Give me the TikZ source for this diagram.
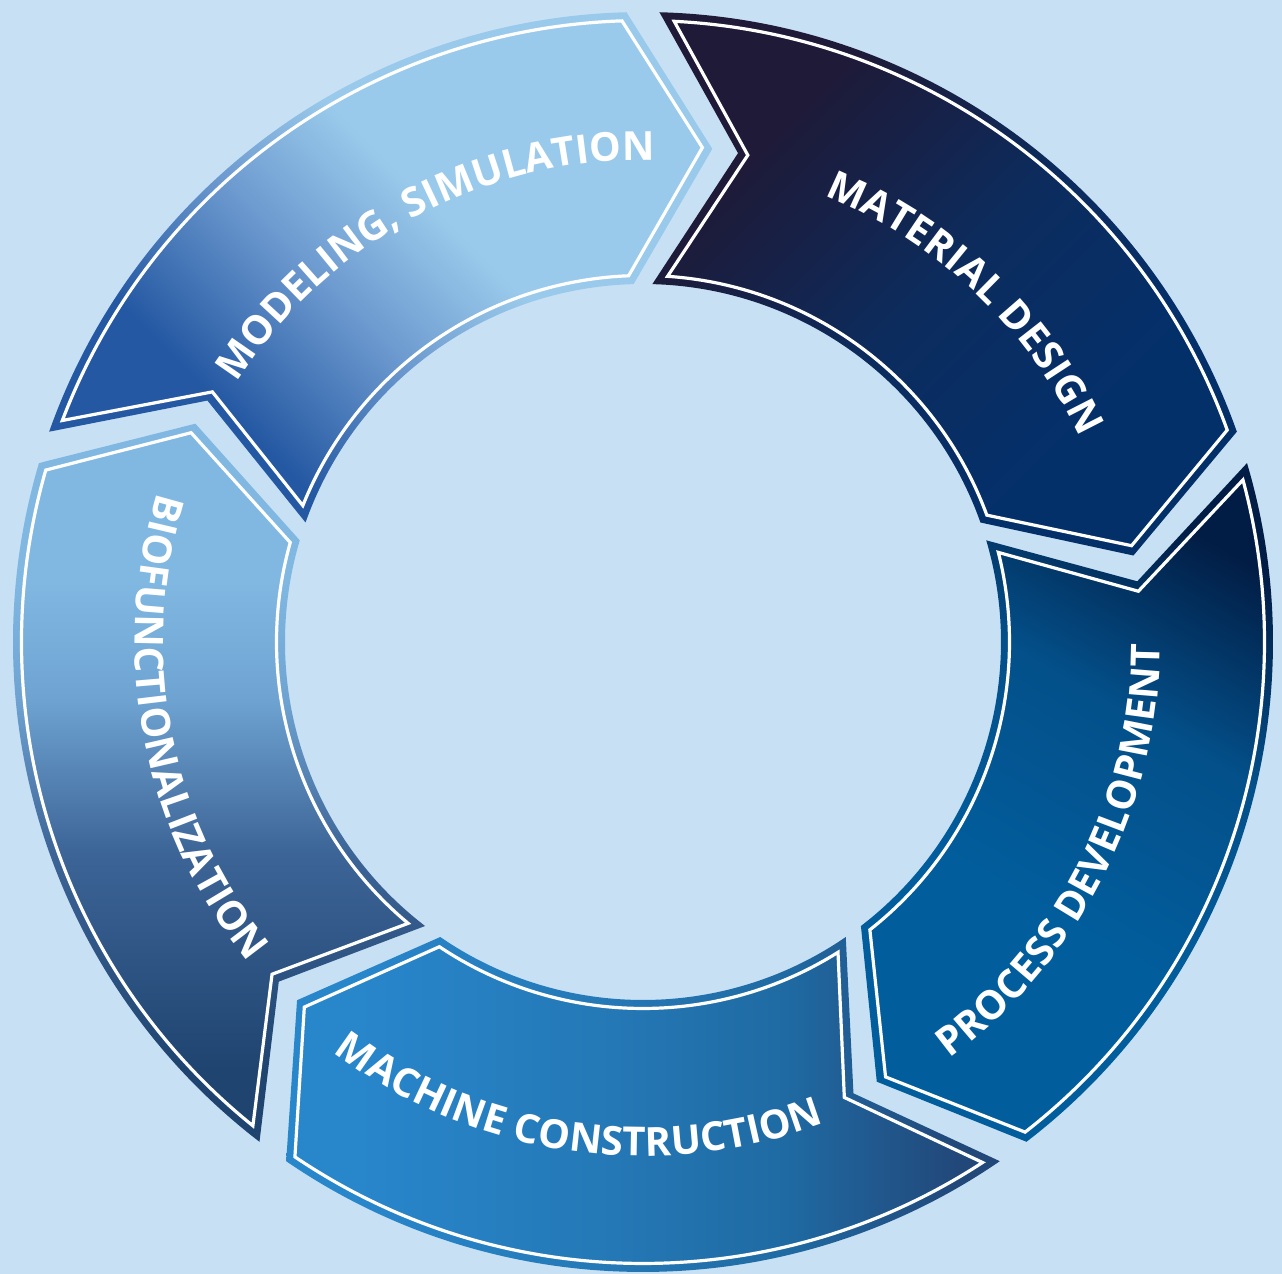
\documentclass[tikz,border=0pt]{standalone}
\usepackage{fontspec}
\setmainfont{Open Sans}
\usetikzlibrary{decorations.text}
\definecolor{bg}{HTML}{C8E0F3}
\definecolor{mA}{HTML}{2458A2}
\definecolor{mB}{HTML}{6E9BD0}
\definecolor{mC}{HTML}{9ACAEB}
\definecolor{tA}{HTML}{1E1A38}
\definecolor{tB}{HTML}{0C2C5E}
\definecolor{tC}{HTML}{04306A}
\definecolor{pA}{HTML}{025D9C}
\definecolor{pB}{HTML}{03508A}
\definecolor{pC}{HTML}{021D45}
\definecolor{cA}{HTML}{2886CB}
\definecolor{cB}{HTML}{2478B5}
\definecolor{cC}{HTML}{1F6AA3}
\definecolor{cD}{HTML}{22487A}
\definecolor{bA}{HTML}{1F4470}
\definecolor{bB}{HTML}{3C6496}
\definecolor{bC}{HTML}{6FA4D2}
\definecolor{bD}{HTML}{80B8E2}
\pgfdeclareverticalshading{modsh}{100bp}{color(0bp)=(mA); color(32bp)=(mA); color(46bp)=(mB); color(57bp)=(mC); color(100bp)=(mC)}
\pgfdeclareverticalshading{matsh}{100bp}{color(0bp)=(tA); color(30bp)=(tA); color(50bp)=(tB); color(68bp)=(tC); color(100bp)=(tC)}
\pgfdeclareverticalshading{procsh}{100bp}{color(0bp)=(pA); color(40bp)=(pA); color(58bp)=(pB); color(74bp)=(pC); color(100bp)=(pC)}
\pgfdeclareverticalshading{machsh}{100bp}{color(0bp)=(cA); color(30bp)=(cA); color(48bp)=(cB); color(60bp)=(cC); color(72bp)=(cD); color(100bp)=(cD)}
\pgfdeclareverticalshading{biosh}{100bp}{color(0bp)=(bA); color(30bp)=(bA); color(45bp)=(bB); color(56bp)=(bC); color(64bp)=(bD); color(100bp)=(bD)}
\newcommand\lbl{\bfseries\fontsize{20}{20}\selectfont}
\tikzset{
  inline/.style={white, line width=1.6pt, line join=miter},
  lab/.style={decorate, decoration={text along path, text align=center, text color=white, text={|\lbl|#1}}}
}
\begin{document}
\begin{tikzpicture}[x=0.5pt,y=0.5pt]
\fill[bg] (-643,-632) rectangle (639,642);
\useasboundingbox (-643,-632) rectangle (639,642);
\foreach \s/\sh/\ang in {160.5/modsh/-45, 88.5/matsh/-135, 16.5/procsh/-30, -55.5/machsh/-90, -127.5/biosh/0}{
  \shade[shading=\sh, shading angle=\ang] (\s:630) arc[start angle=\s, end angle=\s-69, radius=630] -- (\s-78.5:498) -- (\s-69:358) arc[start angle=\s-69, end angle=\s, radius=358] -- (\s-9.5:498) -- cycle;
  \draw[inline] (\s-1.38:621.5) arc[start angle=\s-1.38, end angle=\s-69+0.44, radius=621.5] -- (\s-78.5+1.15:498) -- (\s-69+0.75:366.5) arc[start angle=\s-69+0.75, end angle=\s-2.35, radius=366.5] -- (\s-9.5-1.15:498) -- cycle;
}
\path[lab={MODELING, SIMULATION}] (158:482) arc[start angle=158, end angle=78, radius=482];
\path[lab={MATERIAL DESIGN}] (86.5:482) arc[start angle=86.5, end angle=6.5, radius=482];
\path[lab={PROCESS DEVELOPMENT}] (-67:517) arc[start angle=-67, end angle=13, radius=517];
\path[lab={MACHINE CONSTRUCTION}] (-138.2:514) arc[start angle=-138.2, end angle=-58.2, radius=514];
\path[lab={BIOFUNCTIONALIZATION}] (151:508) arc[start angle=151, end angle=231, radius=508];
\end{tikzpicture}
\end{document}
